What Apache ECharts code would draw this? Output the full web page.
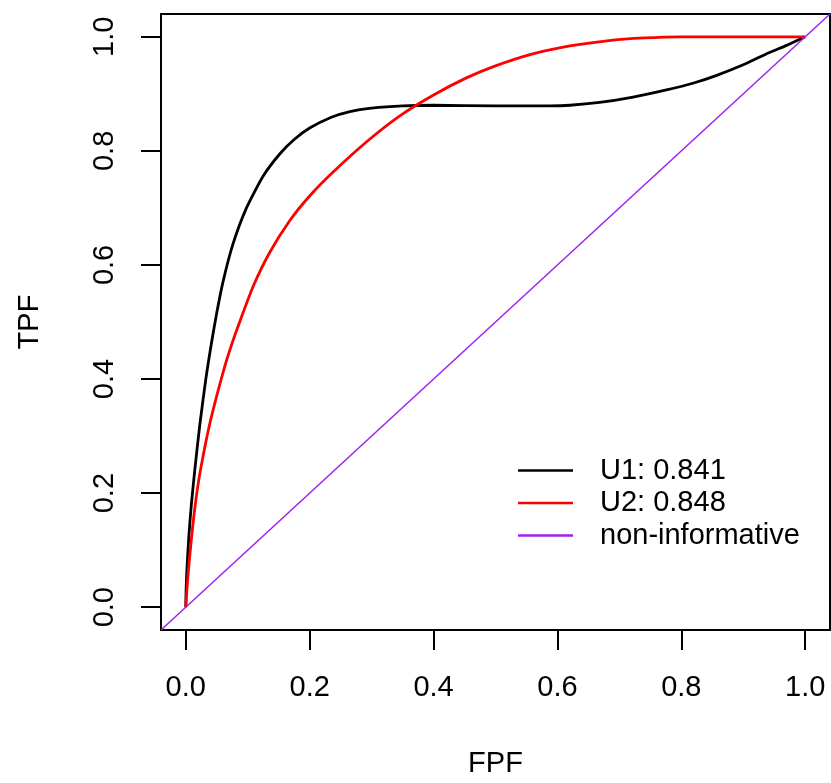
<!DOCTYPE html>
<html><head><meta charset="utf-8">
<script src="https://cdn.jsdelivr.net/npm/echarts@6/dist/echarts.min.js"></script>
<style>html,body{margin:0;padding:0;background:#fff}#c{width:831px;height:783px}</style>
</head><body><div id="c"></div>
<script>
const tickValues = [0, 0.2, 0.4, 0.6, 0.8, 1.0];
const seriesNames = ['U1: 0.841', 'U2: 0.848', 'non-informative'];
const u1 = [[0,0],[0.0005,0.03],[0.002,0.07],[0.005,0.125],[0.009,0.180],[0.015,0.245],[0.023,0.323],[0.033,0.405],[0.041,0.46],[0.05,0.516],[0.06,0.570],[0.076,0.636],[0.098,0.700],[0.125,0.756],[0.152,0.795],[0.175,0.820],[0.2,0.840],[0.235,0.859],[0.265,0.869],[0.3,0.875],[0.35,0.879],[0.4,0.880],[0.5,0.879],[0.587,0.879],[0.62,0.880],[0.668,0.885],[0.72,0.894],[0.776,0.907],[0.82,0.919],[0.856,0.932],[0.9,0.951],[0.937,0.970],[0.97,0.985],[1,1]];
const u2 = [[0,0],[0.001,0.018],[0.004,0.061],[0.009,0.119],[0.015,0.177],[0.023,0.236],[0.039,0.323],[0.060,0.411],[0.073,0.457],[0.087,0.500],[0.109,0.563],[0.135,0.621],[0.168,0.678],[0.2,0.721],[0.237,0.762],[0.292,0.816],[0.345,0.861],[0.4,0.898],[0.453,0.928],[0.5,0.949],[0.56,0.970],[0.62,0.984],[0.68,0.993],[0.74,0.998],[0.8,1.0],[1,1]];
const diag = [[-0.04,-0.04],[1.04,1.04]];
const FONT = 'Liberation Sans, Arial, sans-serif';
const FS = 29;
const chart = echarts.init(document.getElementById('c'));
const axisCommon = {
  type: 'value', min: -0.04, max: 1.04,
  splitLine: {show: false},
  axisLine: {show: true, onZero: false, lineStyle: {color: '#000', width: 2}},
  axisTick: {show: true, length: 20, customValues: tickValues, lineStyle: {color: '#000', width: 2}},
  axisLabel: {customValues: tickValues, formatter: v => v.toFixed(1), color: '#000', fontSize: FS, fontFamily: FONT},
  nameLocation: 'middle',
  nameTextStyle: {color: '#000', fontSize: FS, fontFamily: FONT}
};
chart.setOption({
  animation: false,
  grid: {left: 161, right: 1, top: 14, bottom: 152, show: true, borderColor: '#000', borderWidth: 2, containLabel: false},
  xAxis: Object.assign({}, axisCommon, {name: 'FPF', nameGap: 119,
    axisLabel: Object.assign({}, axisCommon.axisLabel, {margin: 43})}),
  yAxis: Object.assign({}, axisCommon, {name: 'TPF', nameGap: 117,
    axisLabel: Object.assign({}, axisCommon.axisLabel, {margin: 42, rotate: 90})}),
  legend: {
    orient: 'vertical', left: 518, top: 456, padding: 0, itemWidth: 55, itemHeight: 2.5, itemGap: 3.5,
    icon: 'rect',
    textStyle: {color: '#000', fontSize: FS, fontFamily: FONT, padding: [0,0,0,22]},
    data: seriesNames
  },
  series: [
    {name: seriesNames[0], type: 'line', data: u1, showSymbol: false, smooth: 0.2, lineStyle: {color: '#000', width: 2.8}, itemStyle: {color: '#000'}},
    {name: seriesNames[1], type: 'line', data: u2, showSymbol: false, smooth: 0.2, lineStyle: {color: '#ff0000', width: 2.8}, itemStyle: {color: '#ff0000'}},
    {name: seriesNames[2], type: 'line', data: diag, showSymbol: false, lineStyle: {color: '#a020f0', width: 1.5}, itemStyle: {color: '#a020f0'}}
  ]
});
</script></body></html>
